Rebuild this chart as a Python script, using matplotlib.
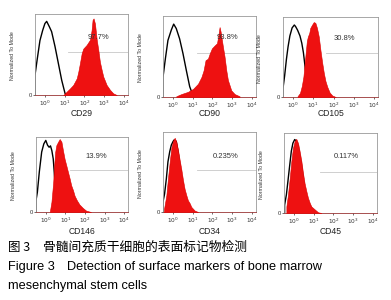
import numpy as np
import matplotlib
matplotlib.use("Agg")
import matplotlib.pyplot as plt
from matplotlib.ticker import NullLocator

plt.rcParams['font.family'] = ['Liberation Sans', 'DejaVu Sans']

# histogram data: x in log10 units, y in % of mode
cd29_black_x = [-0.5, -0.5, -0.38, -0.25, -0.11, 0.0, 0.09, 0.22, 0.34, 0.51, 0.68, 0.85, 1.02, 1.1]
cd29_black_y = [0, 27, 50, 74, 88, 97, 100, 93, 86, 66, 43, 20, 2, 0]
cd29_red_x = [0.93, 1.10, 1.27, 1.43, 1.61, 1.69, 1.77, 1.86, 1.94, 2.11, 2.28, 2.36, 2.41, 2.46,
              2.53, 2.62, 2.70, 2.78, 2.87, 2.95, 3.12, 3.29, 3.45, 3.63]
cd29_red_y = [0, 4.5, 9, 13.6, 22.6, 31.7, 43, 56.6, 63, 68, 75, 88, 102, 104,
              97, 75, 61, 45, 34, 25, 13.6, 7, 2.3, 0]

cd90_black_x = [-0.5, -0.5, -0.38, -0.25, -0.08, 0.04, 0.17, 0.34, 0.51, 0.68, 0.85, 1.02, 1.1]
cd90_black_y = [0, 27, 52, 77, 91, 99, 93, 79, 59, 36, 14, 2, 0]
cd90_red_x = [0.17, 0.43, 0.76, 1.02, 1.27, 1.44, 1.55, 1.65, 1.77, 1.86, 1.97, 2.11, 2.23,
              2.31, 2.36, 2.41, 2.53, 2.61, 2.70, 2.78, 2.95, 3.12, 3.37]
cd90_red_y = [1, 4, 7, 11, 18, 27, 36, 50, 52, 59, 66, 70, 73,
              86, 95, 89, 68, 55, 36, 23, 9, 4, 1]

cd105_black_x = [-0.5, -0.5, -0.42, -0.33, -0.25, -0.16, -0.05, 0.06, 0.12, 0.22, 0.34, 0.43,
                 0.51, 0.59, 0.68, 0.76, 0.85]
cd105_black_y = [0, 12, 29, 52, 69, 84, 95, 99, 97, 92, 84, 74, 61, 42, 22, 8, 0]
cd105_red_x = [0.22, 0.34, 0.43, 0.51, 0.59, 0.68, 0.73, 0.80, 0.85, 0.93, 1.02, 1.10, 1.18,
               1.27, 1.35, 1.44, 1.52, 1.60, 1.69, 1.81, 1.94, 2.11]
cd105_red_y = [1, 5.5, 15, 28, 51, 77, 83, 88, 95, 99, 103, 102, 95,
               83, 65, 47, 33, 22, 14, 6, 2, 0]

cd146_black_x = [-0.5, -0.5, -0.43, -0.33, -0.21, -0.10, 0.0, 0.09, 0.17, 0.24, 0.31, 0.38,
                 0.43, 0.51, 0.58, 0.65]
cd146_black_y = [0, 17, 29, 59, 88, 100, 105, 98, 95, 97, 90, 78, 59, 24, 4, 0]
cd146_red_x = [0.21, 0.29, 0.38, 0.43, 0.48, 0.54, 0.63, 0.71, 0.80, 0.88, 0.96, 1.05, 1.13,
               1.22, 1.30, 1.39, 1.47, 1.59, 1.72, 1.89, 2.06, 2.31]
cd146_red_y = [1, 15, 44, 68, 88, 98, 103, 107, 103, 90, 78, 68, 59,
               49, 39, 32, 24, 17, 11, 6, 2, 0]

cd34_black_x = [-0.5, -0.5, -0.42, -0.33, -0.25, -0.16, -0.08, 0.01, 0.06, 0.17, 0.26, 0.34,
                0.43, 0.51, 0.59, 0.68, 0.76, 0.93]
cd34_black_y = [0, 14, 25, 46, 69, 83, 92, 97, 99, 97, 83, 67, 51, 37, 25, 16, 9, 2]
cd34_red_x = [-0.45, -0.33, -0.25, -0.16, -0.08, 0.01, 0.09, 0.17, 0.26, 0.34, 0.43, 0.51,
              0.59, 0.68, 0.76, 0.85, 0.93, 1.10, 1.27]
cd34_red_y = [4, 23, 46, 69, 88, 98, 102, 97, 85, 72, 58, 44, 32, 23, 16, 12, 7, 2, 0]

cd45_black_x = [-0.47, -0.47, -0.38, -0.30, -0.21, -0.13, -0.05, 0.04, 0.12, 0.21, 0.29, 0.38,
                0.46, 0.54, 0.63, 0.71, 0.88, 1.05]
cd45_black_y = [0, 11, 25, 44, 66, 85, 96, 101, 99, 92, 80, 66, 50, 34, 23, 15, 7, 2]
cd45_red_x = [-0.38, -0.30, -0.21, -0.13, -0.05, 0.04, 0.12, 0.21, 0.29, 0.38, 0.46, 0.54,
              0.63, 0.71, 0.80, 0.88, 1.05, 1.22, 1.39]
cd45_red_y = [9, 25, 48, 71, 89, 99, 102, 96, 85, 71, 55, 41, 30, 21, 14, 9, 5, 1, 0]

markers = ["CD29", "CD90", "CD105", "CD146", "CD34", "CD45"]
percents = ["97.7%", "93.8%", "30.8%", "13.9%", "0.235%", "0.117%"]
gate_start = [1.17, 1.22, 1.62, 1.22, 1.2, 1.32]  # log10 units
gate_y = [58, 60, 60, 62, 58, 57]

blacks = [(cd29_black_x, cd29_black_y), (cd90_black_x, cd90_black_y), (cd105_black_x, cd105_black_y),
          (cd146_black_x, cd146_black_y), (cd34_black_x, cd34_black_y), (cd45_black_x, cd45_black_y)]
reds = [(cd29_red_x, cd29_red_y), (cd90_red_x, cd90_red_y), (cd105_red_x, cd105_red_y),
        (cd146_red_x, cd146_red_y), (cd34_red_x, cd34_red_y), (cd45_red_x, cd45_red_y)]

# panel boxes in pixels: left, right, top, bottom
boxes = [(35, 128, 14, 95), (163, 256, 16, 97), (283, 378, 17, 97),
         (36, 128, 137, 212), (163, 256, 132, 212), (284, 377, 133, 213)]
pct_pos = [(0.68, 0.716), (0.69, 0.73), (0.65, 0.725), (0.66, 0.74), (0.67, 0.70), (0.67, 0.70)]
label_y = [114, 114, 114, 231, 231, 231]

W, H = 391, 300
fig = plt.figure(figsize=(W/100, H/100), dpi=100)

for i in range(6):
    l, r, t, b = boxes[i]
    ax = fig.add_axes([l/W, 1-b/H, (r-l)/W, (b-t)/H])
    bx, by = blacks[i]
    rx, ry = reds[i]
    ax.plot(10**np.array(bx), by, color='black', lw=1.0, zorder=2)
    ax.fill_between(10**np.array(rx), ry, color='#ee1111', lw=0.4, edgecolor='#dd0000', zorder=3)
    ax.set_xscale('log')
    ax.set_xlim(10**-0.5, 10**4.2)
    ax.set_ylim(0, 110)
    ax.set_xticks([1, 10, 100, 1000, 10000])
    ax.xaxis.set_minor_locator(NullLocator())
    ax.set_xticklabels(['$10^0$', '$10^1$', '$10^2$', '$10^3$', '$10^4$'], fontsize=4.2)
    ax.set_yticks([0])
    ax.set_yticklabels(['0'], fontsize=4.2)
    ax.tick_params(length=1.5, width=0.5, pad=1, colors='#333333')
    for s in ax.spines.values():
        s.set_linewidth(0.6)
        s.set_color('#999999')
    ax.spines['bottom'].set_color('#993333')
    ax.set_ylabel('Normalized To Mode', fontsize=3.8, color='#333333')
    ax.yaxis.set_label_coords(-0.22, 0.48)
    # gate line and percent
    ax.plot([10**gate_start[i], 10**4.2], [gate_y[i], gate_y[i]], color='#c8c8c8', lw=0.6, zorder=1)
    ax.text(pct_pos[i][0], pct_pos[i][1], percents[i], transform=ax.transAxes, fontsize=5.5,
            ha='center', va='center', color='#333333', zorder=5)
    fig.text((l+r)/2/W, 1-label_y[i]/H, markers[i], fontsize=6.2,
             ha='center', va='center', color='#222222')

fig.text(8/W, 1-247/H, '图 3', fontsize=9, va='center',
         family=['Noto Sans CJK SC', 'DejaVu Sans'])
fig.text(43/W, 1-247/H, '骨髓间充质干细胞的表面标记物检测', fontsize=9.2, va='center',
         family=['Noto Sans CJK SC', 'DejaVu Sans'])
fig.text(8/W, 1-267/H, 'Figure 3', fontsize=9.2, va='center')
fig.text(67/W, 1-267/H, 'Detection of surface markers of bone marrow', fontsize=9.2, va='center')
fig.text(8/W, 1-286/H, 'mesenchymal stem cells', fontsize=9.2, va='center')

fig.savefig('out.png', dpi=100)
